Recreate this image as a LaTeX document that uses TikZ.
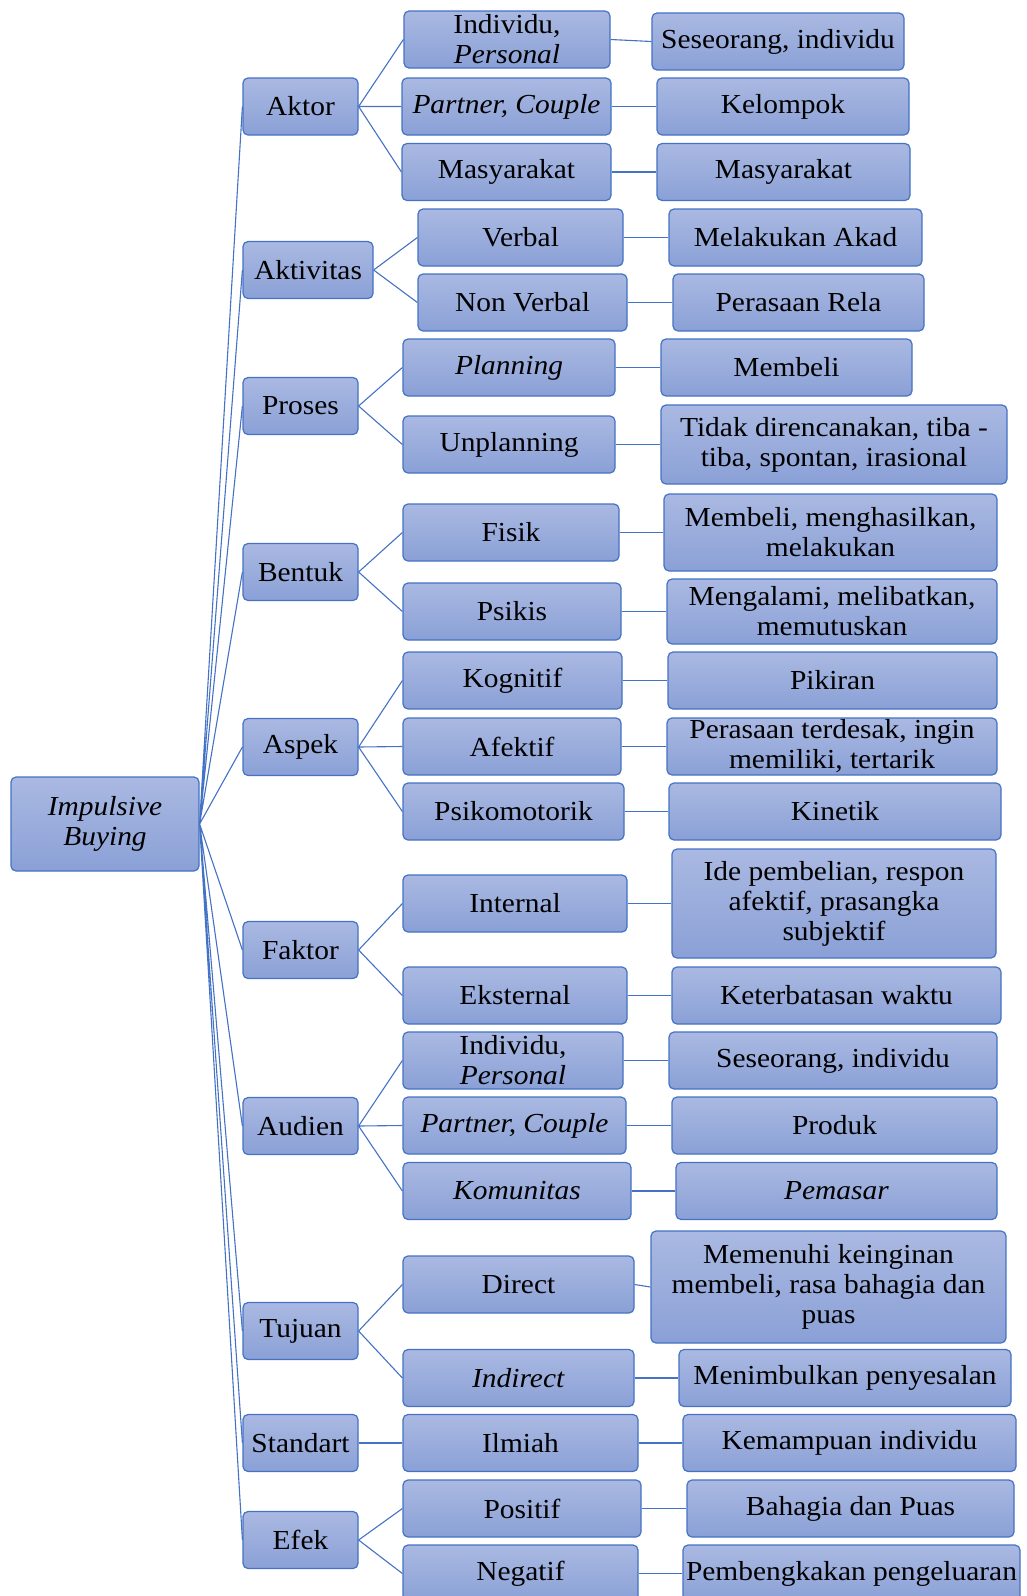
\documentclass[tikz,border=0pt]{standalone}
\usepackage{fontspec}
\setmainfont[FakeStretch=1.07]{Liberation Serif}
\usepackage{tikz}
\usetikzlibrary{positioning}
\definecolor{boxline}{RGB}{68,114,196}
\definecolor{boxtop}{RGB}{170,185,226}
\definecolor{boxbot}{RGB}{138,160,214}
\tikzset{
  box/.style={draw=boxline, line width=1.2, rounded corners=5, top color=boxtop, bottom color=boxbot, inner sep=0pt, align=center, minimum height=57, font=\fontsize{27.5}{30}\selectfont},
  link/.style={draw=boxline, line width=1.1}
}
\begin{document}
\begin{tikzpicture}[x=1pt, y=-1pt]
  \useasboundingbox (0,0) rectangle (1027,1596);
  \clip (0,0) rectangle (1027,1596);

  % Root
  \node[box, minimum width=188, minimum height=94] (root) at (105,824) {\textit{Impulsive}\\\textit{Buying}};

  % First level
  \node[box, minimum width=115] (aktor) at (300.5,106.5) {Aktor};
  \node[box, minimum width=130] (aktivitas) at (308,270) {Aktivitas};
  \node[box, minimum width=115] (proses) at (300.5,406) {Proses};
  \node[box, minimum width=115] (bentuk) at (300.5,572) {Bentuk};
  \node[box, minimum width=115] (aspek) at (300.5,747) {Aspek};
  \node[box, minimum width=115] (faktor) at (300.5,950) {Faktor};
  \node[box, minimum width=115] (audien) at (300.5,1126) {Audien};
  \node[box, minimum width=115] (tujuan) at (300.5,1331) {Tujuan};
  \node[box, minimum width=115] (standart) at (300.5,1443) {Standart};
  \node[box, minimum width=115] (efek) at (300.5,1540) {Efek};

  % Second level
  \node[box, minimum width=206] (individuA) at (507,39.5) {Individu,\\\textit{Personal}};
  \node[box, minimum width=209] (partnerA) at (506.5,106.5) {\textit{Partner, Couple}};
  \node[box, minimum width=209] (masyA) at (506.5,172) {Masyarakat};
  \node[box, minimum width=205] (verbal) at (520.5,237.5) {Verbal};
  \node[box, minimum width=209] (nonverbal) at (522.5,302.5) {Non Verbal};
  \node[box, minimum width=212] (planning) at (509,367.5) {\textit{Planning}};
  \node[box, minimum width=212] (unplanning) at (509,444.5) {Unplanning};
  \node[box, minimum width=216] (fisik) at (511,532.5) {Fisik};
  \node[box, minimum width=218] (psikis) at (512,611.5) {Psikis};
  \node[box, minimum width=219] (kognitif) at (512.5,680.5) {Kognitif};
  \node[box, minimum width=218] (afektif) at (512,746.5) {Afektif};
  \node[box, minimum width=221] (psikomotor) at (513.5,811.5) {Psikomotorik};
  \node[box, minimum width=224] (internal) at (515,903.5) {Internal};
  \node[box, minimum width=224] (eksternal) at (515,995.5) {Eksternal};
  \node[box, minimum width=220] (individuB) at (513,1060.5) {Individu,\\\textit{Personal}};
  \node[box, minimum width=223] (partnerB) at (514.5,1125.5) {\textit{Partner, Couple}};
  \node[box, minimum width=228] (komunitas) at (517,1191) {\textit{Komunitas}};
  \node[box, minimum width=231] (direct) at (518.5,1284.5) {Direct};
  \node[box, minimum width=231] (indirect) at (518.5,1378) {\textit{Indirect}};
  \node[box, minimum width=235] (ilmiah) at (520.5,1443) {Ilmiah};
  \node[box, minimum width=238] (positif) at (522,1508.5) {Positif};
  \node[box, minimum width=235] (negatif) at (520.5,1573.5) {Negatif};

  % Third level
  \node[box, minimum width=252] (seseorangA) at (778,41.5) {Seseorang, individu};
  \node[box, minimum width=252] (kelompok) at (783,106.5) {Kelompok};
  \node[box, minimum width=253] (masyB) at (783.5,172) {Masyarakat};
  \node[box, minimum width=253] (akad) at (795.5,237.5) {Melakukan Akad};
  \node[box, minimum width=251] (rela) at (798.5,302.5) {Perasaan Rela};
  \node[box, minimum width=251] (membeli) at (786.5,367.5) {Membeli};
  \node[box, minimum width=346, minimum height=79] (spontan) at (834,444.5) {Tidak direncanakan, tiba -\\tiba, spontan, irasional};
  \node[box, minimum width=333, minimum height=77] (hasil) at (830.5,532.5) {Membeli, menghasilkan,\\melakukan};
  \node[box, minimum width=330, minimum height=65] (alami) at (832,611.5) {Mengalami, melibatkan,\\memutuskan};
  \node[box, minimum width=329] (pikiran) at (832.5,680.5) {Pikiran};
  \node[box, minimum width=330] (terdesak) at (832,746.5) {Perasaan terdesak, ingin\\memiliki, tertarik};
  \node[box, minimum width=332] (kinetik) at (835,811.5) {Kinetik};
  \node[box, minimum width=324, minimum height=109] (ide) at (834,903.5) {Ide pembelian, respon\\afektif, prasangka\\subjektif};
  \node[box, minimum width=329] (waktu) at (836.5,995.5) {Keterbatasan waktu};
  \node[box, minimum width=328] (seseorangB) at (833,1060.5) {Seseorang, individu};
  \node[box, minimum width=325] (produk) at (834.5,1125.5) {Produk};
  \node[box, minimum width=321] (pemasar) at (836.5,1191) {\textit{Pemasar}};
  \node[box, minimum width=355, minimum height=112] (keinginan) at (828.5,1287) {Memenuhi keinginan\\membeli, rasa bahagia dan\\puas};
  \node[box, minimum width=332] (sesal) at (845,1378) {Menimbulkan penyesalan};
  \node[box, minimum width=333] (mampu) at (849.5,1443) {Kemampuan individu};
  \node[box, minimum width=327] (bahagia) at (850.5,1508.5) {Bahagia dan Puas};
  \node[box, minimum width=337] (bengkak) at (851.5,1573.5) {Pembengkakan pengeluaran};

  % Root to first level
  \draw[link] (root.east) -- (aktor.west) (root.east) -- (aktivitas.west)
    (root.east) -- (proses.west) (root.east) -- (bentuk.west)
    (root.east) -- (aspek.west) (root.east) -- (faktor.west)
    (root.east) -- (audien.west) (root.east) -- (tujuan.west)
    (root.east) -- (standart.west) (root.east) -- (efek.west);

  % First to second level
  \draw[link] (aktor.east) -- (individuA.west) (aktor.east) -- (partnerA.west) (aktor.east) -- (masyA.west);
  \draw[link] (aktivitas.east) -- (verbal.west) (aktivitas.east) -- (nonverbal.west);
  \draw[link] (proses.east) -- (planning.west) (proses.east) -- (unplanning.west);
  \draw[link] (bentuk.east) -- (fisik.west) (bentuk.east) -- (psikis.west);
  \draw[link] (aspek.east) -- (kognitif.west) (aspek.east) -- (afektif.west) (aspek.east) -- (psikomotor.west);
  \draw[link] (faktor.east) -- (internal.west) (faktor.east) -- (eksternal.west);
  \draw[link] (audien.east) -- (individuB.west) (audien.east) -- (partnerB.west) (audien.east) -- (komunitas.west);
  \draw[link] (tujuan.east) -- (direct.west) (tujuan.east) -- (indirect.west);
  \draw[link] (standart.east) -- (ilmiah.west);
  \draw[link] (efek.east) -- (positif.west) (efek.east) -- (negatif.west);

  % Second to third level
  \draw[link] (individuA.east) -- (seseorangA.west);
  \draw[link] (partnerA.east) -- (kelompok.west);
  \draw[link] (masyA.east) -- (masyB.west);
  \draw[link] (verbal.east) -- (akad.west);
  \draw[link] (nonverbal.east) -- (rela.west);
  \draw[link] (planning.east) -- (membeli.west);
  \draw[link] (unplanning.east) -- (spontan.west);
  \draw[link] (fisik.east) -- (hasil.west);
  \draw[link] (psikis.east) -- (alami.west);
  \draw[link] (kognitif.east) -- (pikiran.west);
  \draw[link] (afektif.east) -- (terdesak.west);
  \draw[link] (psikomotor.east) -- (kinetik.west);
  \draw[link] (internal.east) -- (ide.west);
  \draw[link] (eksternal.east) -- (waktu.west);
  \draw[link] (individuB.east) -- (seseorangB.west);
  \draw[link] (partnerB.east) -- (produk.west);
  \draw[link] (komunitas.east) -- (pemasar.west);
  \draw[link] (direct.east) -- (keinginan.west);
  \draw[link] (indirect.east) -- (sesal.west);
  \draw[link] (ilmiah.east) -- (mampu.west);
  \draw[link] (positif.east) -- (bahagia.west);
  \draw[link] (negatif.east) -- (bengkak.west);
\end{tikzpicture}
\end{document}
